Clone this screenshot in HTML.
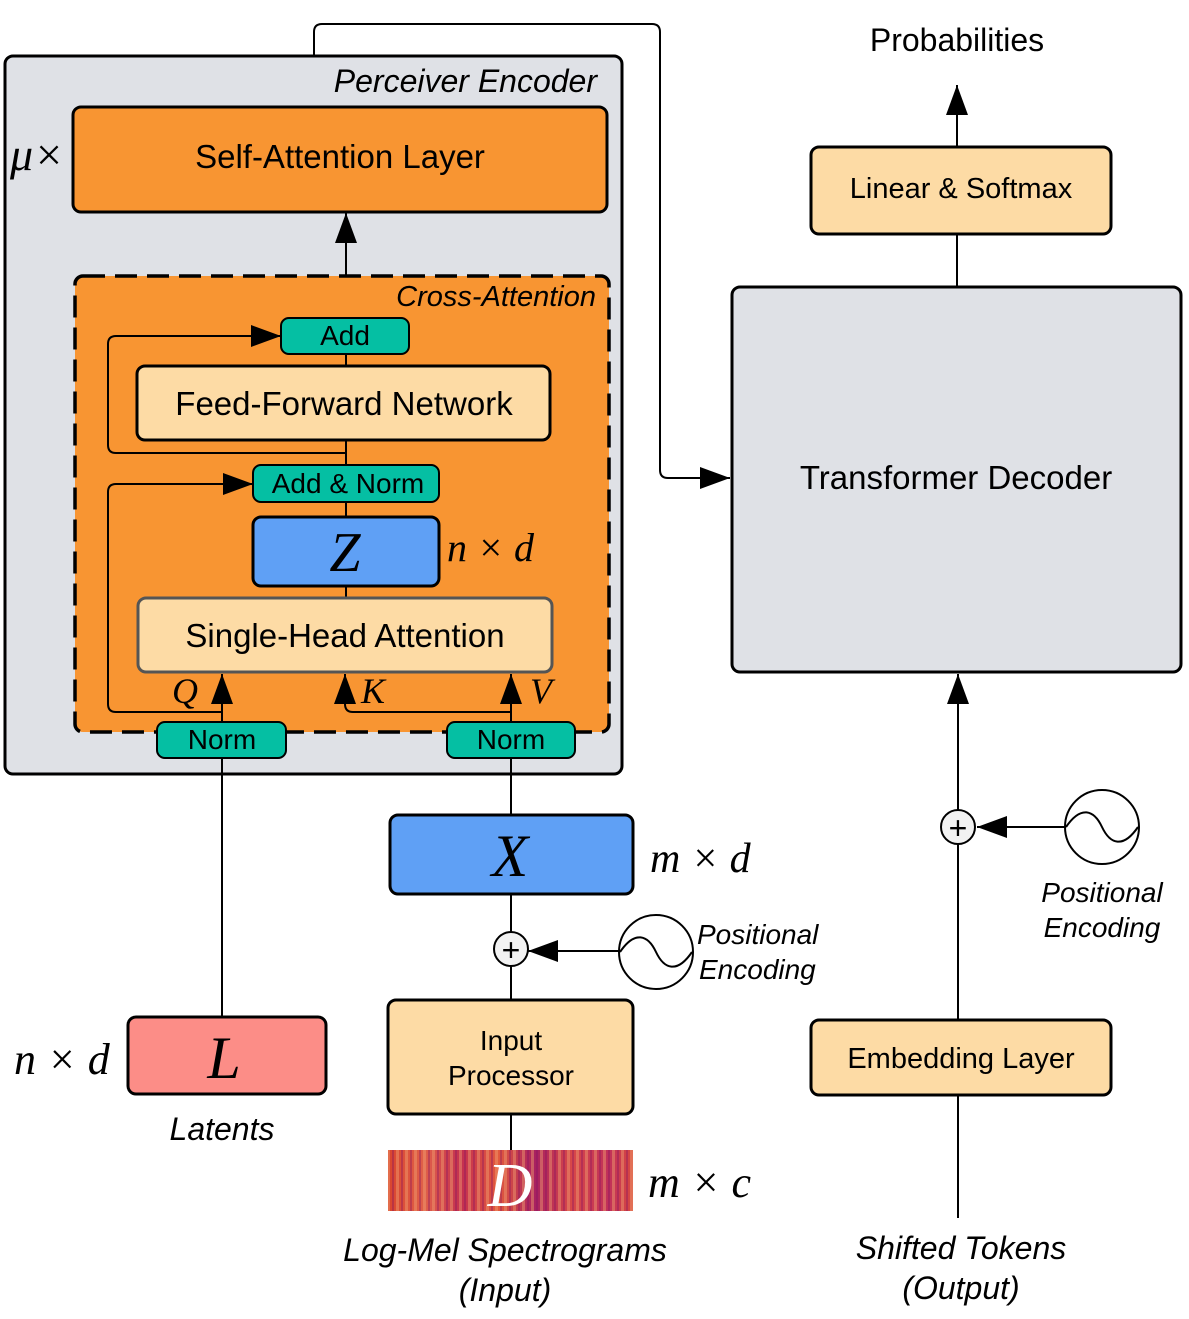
<!DOCTYPE html>
<html><head><meta charset="utf-8"><style>
body{margin:0;background:#fff}
svg text{font-family:"Liberation Sans",sans-serif}
.m{font-family:"Liberation Serif",serif;font-style:italic}
</style></head><body>
<svg width="1189" height="1314" viewBox="0 0 1189 1314" xmlns="http://www.w3.org/2000/svg">
<defs>
<marker id="a" markerWidth="30" markerHeight="22" refX="30" refY="11" orient="auto" markerUnits="userSpaceOnUse" viewBox="0 0 30 22"><path d="M0,0 L30,11 L0,22z" fill="#000"/></marker>
<linearGradient id="sp" x1="0" x2="1" y1="0" y2="0">
<stop offset="0" stop-color="#d8442e"/><stop offset="0.15" stop-color="#e0604a"/><stop offset="0.3" stop-color="#c43050"/><stop offset="0.45" stop-color="#e25a3d"/><stop offset="0.6" stop-color="#a82060"/><stop offset="0.75" stop-color="#d84848"/><stop offset="0.9" stop-color="#c0305a"/><stop offset="1" stop-color="#d84a40"/>
</linearGradient>
<pattern id="st" width="9" height="61" patternUnits="userSpaceOnUse"><rect width="3" height="61" fill="#f0a070" opacity="0.45"/><rect x="5" width="2" height="61" fill="#801060" opacity="0.35"/></pattern>
</defs>
<g stroke="#000" stroke-width="2" fill="none">
<path d="M314,56 V32 Q314,24 322,24 H652 Q660,24 660,32 V470 Q660,478 668,478 H730" marker-end="url(#a)"/>
</g>
<rect x="5" y="56" width="617" height="718" rx="8" fill="#dfe1e6" stroke="#000" stroke-width="3"/>
<text x="597" y="92" font-size="32" font-style="italic" text-anchor="end">Perceiver Encoder</text>
<rect x="73" y="107" width="534" height="105" rx="8" fill="#f89532" stroke="#000" stroke-width="3"/>
<text x="340" y="168" font-size="33" text-anchor="middle">Self-Attention Layer</text>
<text x="10" y="170" font-size="46" class="m">μ×</text>
<line x1="346" y1="318" x2="346" y2="213" stroke="#000" stroke-width="2" marker-end="url(#a)"/>
<rect x="75" y="276" width="534" height="456" rx="8" fill="#f89532" stroke="#000" stroke-width="3.5" stroke-dasharray="22,10"/>
<text x="596" y="306" font-size="29" font-style="italic" text-anchor="end">Cross-Attention</text>
<g stroke="#000" stroke-width="2" fill="none">
<line x1="346" y1="354" x2="346" y2="366"/>
<line x1="346" y1="440" x2="346" y2="465"/>
<path d="M346,453 H116 Q108,453 108,445 V344 Q108,336 116,336 H281" marker-end="url(#a)"/>
<path d="M222,712 H116 Q108,712 108,704 V492 Q108,484 116,484 H253" marker-end="url(#a)"/>
<line x1="346" y1="502" x2="346" y2="517"/>
<line x1="346" y1="586" x2="346" y2="598"/>
<line x1="222" y1="722" x2="222" y2="674" marker-end="url(#a)"/>
<line x1="511" y1="722" x2="511" y2="674" marker-end="url(#a)"/>
<path d="M511,712 H353 Q345,712 345,704 V674" marker-end="url(#a)"/>
<line x1="222" y1="758" x2="222" y2="1017"/>
<line x1="511" y1="758" x2="511" y2="815"/>
<line x1="511" y1="894" x2="511" y2="932"/>
<line x1="511" y1="966" x2="511" y2="1000"/>
<line x1="619" y1="951" x2="528" y2="951" marker-end="url(#a)"/>
<line x1="511" y1="1114" x2="511" y2="1150"/>
<line x1="957" y1="234" x2="957" y2="287"/>
<line x1="957" y1="147" x2="957" y2="85" marker-end="url(#a)"/>
<line x1="958" y1="1095" x2="958" y2="1218"/>
<line x1="958" y1="1020" x2="958" y2="844"/>
<line x1="958" y1="810" x2="958" y2="674" marker-end="url(#a)"/>
<line x1="1065" y1="827" x2="977" y2="827" marker-end="url(#a)"/>
</g>
<rect x="281" y="318" width="128" height="36" rx="8" fill="#05bfa3" stroke="#000" stroke-width="2"/>
<text x="345" y="345" font-size="28" text-anchor="middle">Add</text>
<rect x="137" y="366" width="413" height="74" rx="8" fill="#fddba5" stroke="#000" stroke-width="3"/>
<text x="344" y="415" font-size="33" text-anchor="middle">Feed-Forward Network</text>
<rect x="253" y="465" width="186" height="37" rx="8" fill="#05bfa3" stroke="#000" stroke-width="2"/>
<text x="348" y="493" font-size="28" text-anchor="middle">Add &amp; Norm</text>
<rect x="253" y="517" width="186" height="69" rx="8" fill="#5fa0f5" stroke="#000" stroke-width="3"/>
<text x="345" y="571" font-size="56" class="m" text-anchor="middle">Z</text>
<text x="447" y="561" font-size="40" class="m">n × d</text>
<rect x="138" y="598" width="414" height="74" rx="8" fill="#fddba5" stroke="#555" stroke-width="3"/>
<text x="345" y="647" font-size="33" text-anchor="middle">Single-Head Attention</text>
<text x="172" y="703" font-size="36" class="m">Q</text>
<text x="361" y="703" font-size="36" class="m">K</text>
<text x="530" y="703" font-size="36" class="m">V</text>
<rect x="157" y="722" width="129" height="36" rx="8" fill="#05bfa3" stroke="#000" stroke-width="2"/>
<text x="222" y="749" font-size="28" text-anchor="middle">Norm</text>
<rect x="447" y="722" width="128" height="36" rx="8" fill="#05bfa3" stroke="#000" stroke-width="2"/>
<text x="511" y="749" font-size="28" text-anchor="middle">Norm</text>
<rect x="390" y="815" width="243" height="79" rx="8" fill="#5fa0f5" stroke="#000" stroke-width="3"/>
<text x="510" y="876" font-size="60" class="m" text-anchor="middle">X</text>
<text x="650" y="872" font-size="42" class="m">m × d</text>
<circle cx="511" cy="949" r="17" fill="#f2f2f2" stroke="#000" stroke-width="2"/>
<text x="511" y="961" font-size="32" text-anchor="middle">+</text>
<circle cx="656" cy="952" r="37" fill="#fff" stroke="#000" stroke-width="2"/>
<path d="M620,952 C635,930 648,935 656,952 C664,969 677,974 692,952" fill="none" stroke="#000" stroke-width="2"/>
<text x="697" y="944" font-size="28" font-style="italic">Positional</text>
<text x="699" y="979" font-size="28" font-style="italic">Encoding</text>
<rect x="388" y="1000" width="245" height="114" rx="8" fill="#fddba5" stroke="#000" stroke-width="3"/>
<text x="511" y="1050" font-size="28" text-anchor="middle">Input</text>
<text x="511" y="1085" font-size="28" text-anchor="middle">Processor</text>
<rect x="388" y="1150" width="245" height="61" fill="url(#sp)"/>
<rect x="388" y="1150" width="245" height="61" fill="url(#st)"/>
<text x="510" y="1206" font-size="62" class="m" fill="#fff" text-anchor="middle">D</text>
<text x="648" y="1197" font-size="44" class="m">m × c</text>
<text x="505" y="1261" font-size="32" font-style="italic" text-anchor="middle">Log-Mel Spectrograms</text>
<text x="505" y="1301" font-size="32" font-style="italic" text-anchor="middle">(Input)</text>
<rect x="128" y="1017" width="198" height="77" rx="8" fill="#fc8d87" stroke="#000" stroke-width="3"/>
<text x="224" y="1078" font-size="60" class="m" text-anchor="middle">L</text>
<text x="14" y="1074" font-size="44" class="m">n × d</text>
<text x="222" y="1140" font-size="32" font-style="italic" text-anchor="middle">Latents</text>
<text x="957" y="51" font-size="32" text-anchor="middle">Probabilities</text>
<rect x="811" y="147" width="300" height="87" rx="8" fill="#fddba5" stroke="#000" stroke-width="3"/>
<text x="961" y="198" font-size="29" text-anchor="middle">Linear &amp; Softmax</text>
<rect x="732" y="287" width="449" height="385" rx="8" fill="#dfe1e6" stroke="#000" stroke-width="3"/>
<text x="956" y="489" font-size="33" text-anchor="middle">Transformer Decoder</text>
<circle cx="958" cy="827" r="17" fill="#f2f2f2" stroke="#000" stroke-width="2"/>
<text x="958" y="839" font-size="32" text-anchor="middle">+</text>
<circle cx="1102" cy="827" r="37" fill="#fff" stroke="#000" stroke-width="2"/>
<path d="M1066,827 C1081,805 1094,810 1102,827 C1110,844 1123,849 1138,827" fill="none" stroke="#000" stroke-width="2"/>
<text x="1102" y="902" font-size="28" font-style="italic" text-anchor="middle">Positional</text>
<text x="1102" y="937" font-size="28" font-style="italic" text-anchor="middle">Encoding</text>
<rect x="811" y="1020" width="300" height="75" rx="8" fill="#fddba5" stroke="#000" stroke-width="3"/>
<text x="961" y="1068" font-size="29" text-anchor="middle">Embedding Layer</text>
<text x="961" y="1259" font-size="32" font-style="italic" text-anchor="middle">Shifted Tokens</text>
<text x="961" y="1299" font-size="32" font-style="italic" text-anchor="middle">(Output)</text>
</svg>
</body></html>
